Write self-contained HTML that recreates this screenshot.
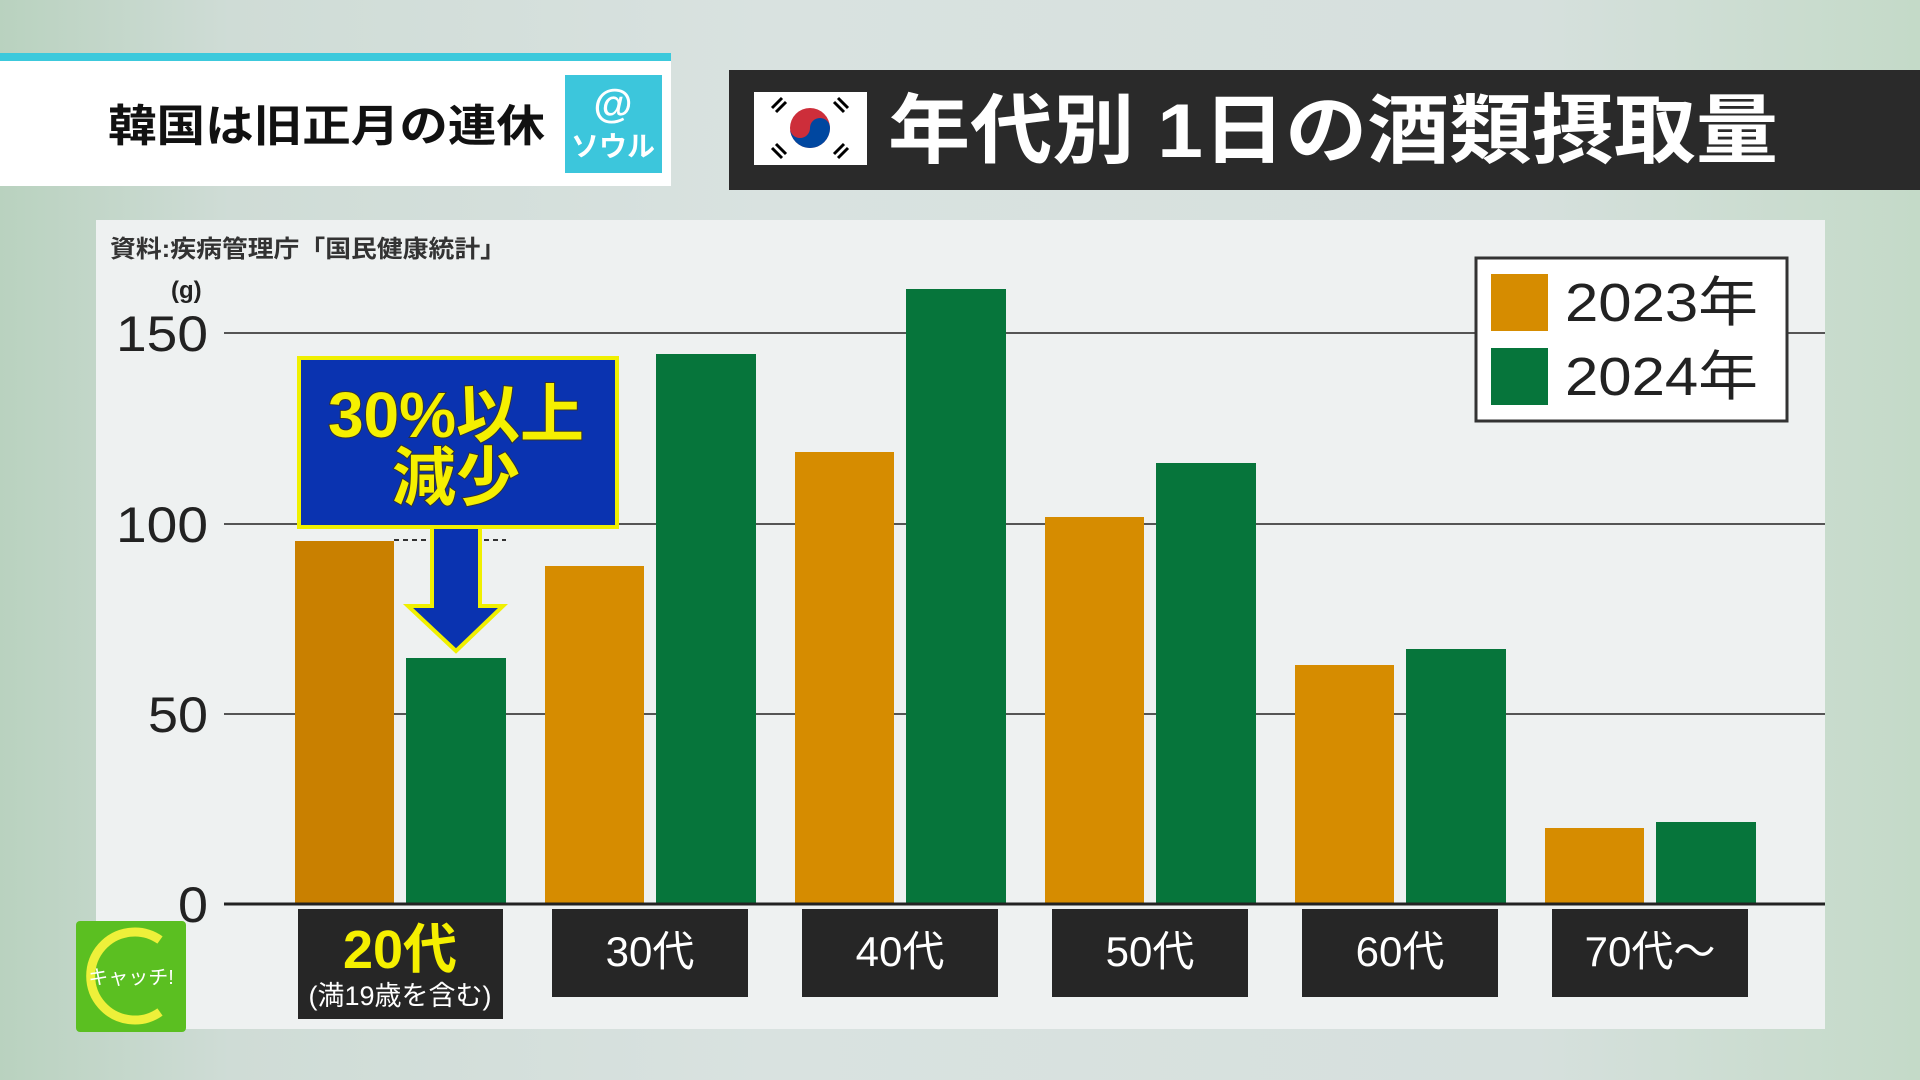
<!DOCTYPE html>
<html><head><meta charset="utf-8"><style>
html,body{margin:0;padding:0;width:1920px;height:1080px;overflow:hidden}
body{background:linear-gradient(90deg,#b9d2bf 0%,#cfdcd6 12%,#d9e2e0 40%,#d6e0dd 80%,#c4dac8 100%);font-family:"Liberation Sans","Noto Sans CJK JP",sans-serif}
</style></head><body>
<svg width="1920" height="1080" viewBox="0 0 1920 1080" xmlns="http://www.w3.org/2000/svg" style="position:absolute;left:0;top:0;font-family:'Liberation Sans','Noto Sans CJK JP',sans-serif">
<rect x="0" y="53" width="671" height="8" fill="#3cc9dc"/>
<rect x="0" y="61" width="671" height="125" fill="#ffffff"/>
<text x="108" y="141" font-size="44" font-weight="bold" fill="#111" textLength="437" lengthAdjust="spacingAndGlyphs">韓国は旧正月の連休</text>
<rect x="565" y="75" width="97" height="98" fill="#3cc6dc"/>
<text x="613" y="117" font-size="40" font-weight="bold" fill="#fff" text-anchor="middle">@</text>
<text x="613" y="156" font-size="28" font-weight="bold" fill="#fff" text-anchor="middle">ソウル</text>
<rect x="729" y="70" width="1191" height="120" fill="#2a2a2a"/>
<rect x="754" y="92" width="113" height="73" fill="#fff"/>
<circle cx="810" cy="128" r="20" fill="#cd2e3a"/>
<path d="M790 128 a20 20 0 0 0 40 0 a10 10 0 0 0 -20 0 a10 10 0 0 1 -20 0z" fill="#0047a0"/>
<g stroke="#000" stroke-width="3"><line x1="772" y1="108" x2="782" y2="98"/><line x1="776" y1="112" x2="786" y2="102"/><line x1="838" y1="98" x2="848" y2="108"/><line x1="834" y1="102" x2="844" y2="112"/><line x1="772" y1="148" x2="782" y2="158"/><line x1="776" y1="144" x2="786" y2="154"/><line x1="838" y1="158" x2="848" y2="148"/><line x1="834" y1="154" x2="844" y2="144"/></g>
<text x="888" y="157" font-size="76" font-weight="bold" fill="#fff" textLength="890" lengthAdjust="spacingAndGlyphs">年代別 1日の酒類摂取量</text>
<rect x="96" y="220" width="1729" height="809" fill="#eef1f1"/>
<text x="110" y="257" font-size="24" font-weight="bold" fill="#333" textLength="396" lengthAdjust="spacingAndGlyphs">資料:疾病管理庁「国民健康統計」</text>
<text x="171" y="298" font-size="24" font-weight="bold" fill="#222">(g)</text>
<g stroke="#555" stroke-width="2"><line x1="224" y1="333" x2="1825" y2="333"/><line x1="224" y1="524" x2="1825" y2="524"/><line x1="224" y1="714" x2="1825" y2="714"/></g>
<g font-size="50" fill="#222"><text x="116" y="351" textLength="92" lengthAdjust="spacingAndGlyphs">150</text><text x="116" y="542" textLength="92" lengthAdjust="spacingAndGlyphs">100</text><text x="148" y="732" textLength="60" lengthAdjust="spacingAndGlyphs">50</text><text x="178" y="922" textLength="30" lengthAdjust="spacingAndGlyphs">0</text></g>
<g>
<rect x="295" y="541" width="99" height="363" fill="#c98000"/>
<rect x="406" y="658" width="100" height="246" fill="#06753b"/>
<rect x="545" y="566" width="99" height="338" fill="#d68c00"/>
<rect x="656" y="354" width="100" height="550" fill="#06753b"/>
<rect x="795" y="452" width="99" height="452" fill="#d68c00"/>
<rect x="906" y="289" width="100" height="615" fill="#06753b"/>
<rect x="1045" y="517" width="99" height="387" fill="#d68c00"/>
<rect x="1156" y="463" width="100" height="441" fill="#06753b"/>
<rect x="1295" y="665" width="99" height="239" fill="#d68c00"/>
<rect x="1406" y="649" width="100" height="255" fill="#06753b"/>
<rect x="1545" y="828" width="99" height="76" fill="#d68c00"/>
<rect x="1656" y="822" width="100" height="82" fill="#06753b"/>
</g>
<line x1="224" y1="904" x2="1825" y2="904" stroke="#222" stroke-width="3"/>
<rect x="298" y="909" width="205" height="110" fill="#262626"/>
<text x="400" y="968" font-size="54" font-weight="bold" fill="#f5f000" text-anchor="middle">20代</text>
<text x="400" y="1005" font-size="27" fill="#fff" text-anchor="middle">(満19歳を含む)</text>
<g font-size="42" fill="#fff" text-anchor="middle">
<rect x="552" y="909" width="196" height="88" fill="#262626"/><text x="650" y="966">30代</text>
<rect x="802" y="909" width="196" height="88" fill="#262626"/><text x="900" y="966">40代</text>
<rect x="1052" y="909" width="196" height="88" fill="#262626"/><text x="1150" y="966">50代</text>
<rect x="1302" y="909" width="196" height="88" fill="#262626"/><text x="1400" y="966">60代</text>
<rect x="1552" y="909" width="196" height="88" fill="#262626"/><text x="1650" y="966">70代～</text>
</g>
<rect x="1476" y="258" width="311" height="163" fill="#fff" stroke="#333" stroke-width="3"/>
<rect x="1491" y="274" width="57" height="57" fill="#d68c00"/>
<rect x="1491" y="348" width="57" height="57" fill="#06753b"/>
<g font-size="54" fill="#222"><text x="1565" y="321" textLength="193" lengthAdjust="spacingAndGlyphs">2023年</text><text x="1565" y="395" textLength="193" lengthAdjust="spacingAndGlyphs">2024年</text></g>
<line x1="394" y1="540" x2="506" y2="540" stroke="#333" stroke-width="2" stroke-dasharray="5,4"/>
<rect x="299" y="358" width="318" height="169" fill="#0a33b0" stroke="#f0f000" stroke-width="4"/>
<path d="M432 527 H480 V606 H503 L456 651 L408 606 H432 Z" fill="#0a33b0" stroke="#f0f000" stroke-width="4"/>
<g font-size="64" font-weight="bold" fill="#f5f000" stroke="#333" stroke-width="2" text-anchor="middle" paint-order="stroke">
<text x="456" y="437">30%以上</text><text x="456" y="500">減少</text></g>
<rect x="76" y="921" width="110" height="111" rx="4" fill="#5bbf21"/>
<path d="M160 940 A44 44 0 1 0 160 1012" fill="none" stroke="#eef03a" stroke-width="9"/>
<text x="131" y="984" font-size="20" fill="#fff" text-anchor="middle">キャッチ!</text>
</svg>
</body></html>
